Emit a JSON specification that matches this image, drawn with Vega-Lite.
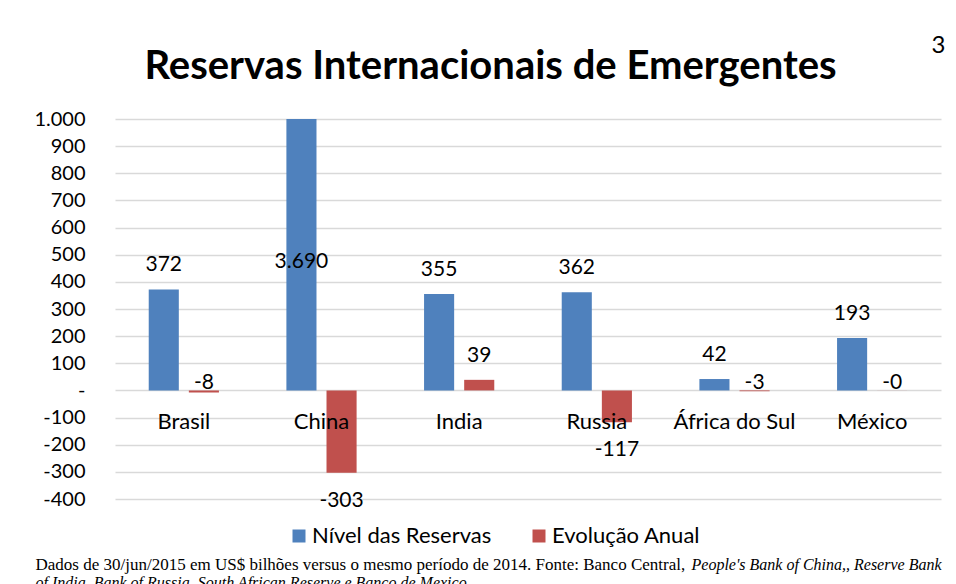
{
  "$schema": "https://vega.github.io/schema/vega-lite/v6.json",
  "width": 826,
  "height": 380,
  "autosize": "none",
  "padding": {"left": 115, "top": 119, "right": 15, "bottom": 85},
  "background": "white",
  "config": {
    "locale": {"number": {"decimal": ",", "thousands": ".", "grouping": [3], "currency": ["R$", ""], "minus": "-"}},
    "view": {"stroke": null},
    "font": "Lato"
  },
  "data": {
    "values": [
      {"pais": "Brasil", "serie": "Nível das Reservas", "valor": 372},
      {"pais": "Brasil", "serie": "Evolução Anual", "valor": -8},
      {"pais": "China", "serie": "Nível das Reservas", "valor": 3690},
      {"pais": "China", "serie": "Evolução Anual", "valor": -303},
      {"pais": "India", "serie": "Nível das Reservas", "valor": 355},
      {"pais": "India", "serie": "Evolução Anual", "valor": 39},
      {"pais": "Russia", "serie": "Nível das Reservas", "valor": 362},
      {"pais": "Russia", "serie": "Evolução Anual", "valor": -117},
      {"pais": "África do Sul", "serie": "Nível das Reservas", "valor": 42},
      {"pais": "África do Sul", "serie": "Evolução Anual", "valor": -3},
      {"pais": "México", "serie": "Nível das Reservas", "valor": 193},
      {"pais": "México", "serie": "Evolução Anual", "valor": -0.2}
    ]
  },
  "transform": [
    {"calculate": "datum.valor < 0 && round(datum.valor) === 0 ? '-0' : format(datum.valor, ',.0f')", "as": "rotulo"}
  ],
  "layer": [
    {
      "mark": {"type": "bar", "clip": true},
      "encoding": {
        "x": {
          "field": "pais", "type": "nominal", "sort": null,
          "scale": {"paddingInner": 0.49, "paddingOuter": 0.245},
          "axis": {
            "orient": "bottom", "labels": false, "ticks": false, "domain": false, "grid": false,
            "title": "Dados de 30/jun/2015 em US$ bilhões versus o mesmo período de 2014.  Fonte: Banco Central,",
            "titleFont": "Liberation Serif", "titleFontSize": 17, "titleFontWeight": "normal", "titleColor": "#000000",
            "titleAlign": "left", "titleBaseline": "alphabetic", "titleX": -80, "titleY": 70
          }
        },
        "xOffset": {
          "field": "serie", "type": "nominal",
          "scale": {"domain": ["Nível das Reservas", "Evolução Anual"], "paddingInner": 0.25, "paddingOuter": 0}
        },
        "y": {
          "field": "valor", "type": "quantitative",
          "scale": {"domain": [-400, 1000], "nice": false, "zero": true},
          "axis": {
            "orient": "left",
            "values": [-400, -300, -200, -100, 0, 100, 200, 300, 400, 500, 600, 700, 800, 900, 1000],
            "format": ",d",
            "labelExpr": "datum.value === 0 ? '-\u00a0\u00a0' : datum.label",
            "labelFont": "Lato", "labelFontSize": 20, "labelColor": "#000000", "labelPadding": 30,
            "ticks": false, "domain": false, "grid": true, "gridColor": "#d9d9d9", "gridWidth": 1.5,
            "title": null
          }
        },
        "color": {
          "field": "serie", "type": "nominal",
          "scale": {"domain": ["Nível das Reservas", "Evolução Anual"], "range": ["#4f81bd", "#c0504d"]},
          "legend": {
            "orient": "none", "legendX": 173, "legendY": 406, "direction": "horizontal", "title": null,
            "symbolType": "square", "symbolSize": 169, "symbolStrokeWidth": 0,
            "labelFont": "Lato", "labelFontSize": 22, "labelColor": "#000000", "labelLimit": 400,
            "columnPadding": 36, "labelOffset": 2
          }
        }
      }
    },
    {
      "transform": [
        {"filter": "datum.valor >= 0"},
        {"calculate": "datum.valor > 1000 ? 385 : datum.valor", "as": "posicao"}
      ],
      "mark": {"type": "text", "dy": -24, "baseline": "middle", "fontSize": 21, "font": "Lato", "color": "#000000"},
      "encoding": {
        "x": {"field": "pais", "type": "nominal", "sort": null, "axis": null},
        "xOffset": {"field": "serie", "type": "nominal"},
        "y": {"field": "posicao", "type": "quantitative", "axis": null},
        "text": {"field": "rotulo", "type": "nominal"}
      }
    },
    {
      "transform": [{"filter": "datum.valor < -50"}],
      "mark": {"type": "text", "dy": 28, "baseline": "middle", "fontSize": 21, "font": "Lato", "color": "#000000"},
      "encoding": {
        "x": {"field": "pais", "type": "nominal", "sort": null, "axis": null},
        "xOffset": {"field": "serie", "type": "nominal"},
        "y": {"field": "valor", "type": "quantitative", "axis": null},
        "text": {"field": "rotulo", "type": "nominal"}
      }
    },
    {
      "transform": [{"filter": "datum.valor < 0 && datum.valor >= -50"}],
      "mark": {"type": "text", "dy": -7, "baseline": "middle", "fontSize": 21, "font": "Lato", "color": "#000000"},
      "encoding": {
        "x": {"field": "pais", "type": "nominal", "sort": null, "axis": null},
        "xOffset": {"field": "serie", "type": "nominal"},
        "y": {"datum": 0, "type": "quantitative", "axis": null},
        "text": {"field": "rotulo", "type": "nominal"}
      }
    },
    {
      "transform": [{"filter": "datum.serie === 'Nível das Reservas'"}],
      "mark": {"type": "text", "dy": 32, "baseline": "middle", "fontSize": 22, "font": "Lato", "color": "#000000"},
      "encoding": {
        "x": {
          "field": "pais", "type": "nominal", "sort": null,
          "axis": {
            "orient": "top", "labels": false, "ticks": false, "domain": false, "grid": false,
            "title": "Reservas Internacionais de Emergentes",
            "titleFont": "Lato", "titleFontSize": 40, "titleFontWeight": "bold", "titleColor": "#000000",
            "titleAlign": "center", "titleBaseline": "alphabetic", "titleX": 375, "titleY": -41
          }
        },
        "y": {"datum": 0, "type": "quantitative", "axis": null},
        "text": {"field": "pais", "type": "nominal"}
      }
    },
    {
      "transform": [{"filter": "datum.serie === 'Nível das Reservas'"}],
      "mark": {"type": "text", "opacity": 0},
      "encoding": {
        "x": {
          "field": "pais", "type": "nominal", "sort": null,
          "axis": {
            "orient": "bottom", "labels": false, "ticks": false, "domain": false, "grid": false,
            "title": "People's Bank of China,, Reserve Bank",
            "titleFont": "Liberation Serif", "titleFontSize": 16, "titleFontWeight": "normal", "titleFontStyle": "italic", "titleColor": "#000000",
            "titleAlign": "left", "titleBaseline": "alphabetic", "titleX": 576, "titleY": 70
          }
        },
        "y": {
          "field": "valor", "type": "quantitative",
          "axis": {
            "orient": "right", "labels": false, "ticks": false, "domain": false, "grid": false,
            "title": "3", "titleAngle": 0, "titleFont": "Lato", "titleFontSize": 24, "titleFontWeight": "normal", "titleColor": "#000000",
            "titleAlign": "center", "titleBaseline": "middle", "titleX": -3, "titleY": -74
          }
        },
        "text": {"value": ""}
      }
    },
    {
      "transform": [{"filter": "datum.serie === 'Nível das Reservas'"}],
      "mark": {"type": "text", "opacity": 0},
      "encoding": {
        "x": {
          "field": "pais", "type": "nominal", "sort": null,
          "axis": {
            "orient": "bottom", "labels": false, "ticks": false, "domain": false, "grid": false,
            "title": "of India, Bank of Russia, South African Reserve e Banco de Mexico.",
            "titleFont": "Liberation Serif", "titleFontSize": 16, "titleFontWeight": "normal", "titleFontStyle": "italic", "titleColor": "#000000",
            "titleAlign": "left", "titleBaseline": "alphabetic", "titleX": -80, "titleY": 88
          }
        },
        "y": {"field": "valor", "type": "quantitative", "axis": null},
        "text": {"value": ""}
      }
    }
  ],
  "resolve": {"axis": {"x": "independent", "y": "independent"}}
}
